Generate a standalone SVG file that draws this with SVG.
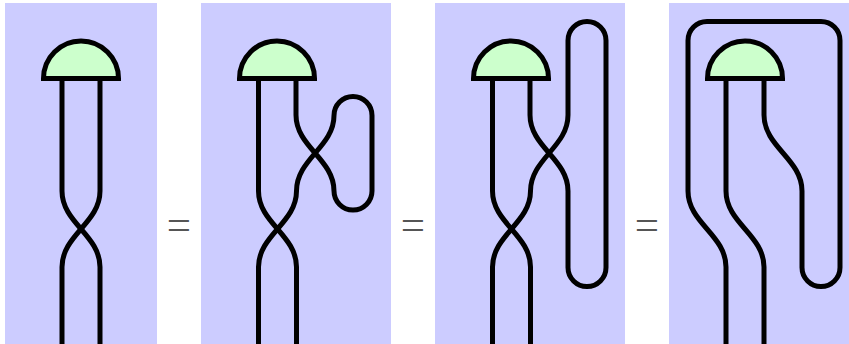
<svg xmlns="http://www.w3.org/2000/svg" width="849" height="344" viewBox="0 0 849 344">
<style>
.panel{fill:#ccf;stroke:none}
.wire{fill:none;stroke:#000;stroke-width:5}
.dome{fill:#cfc;stroke:#000;stroke-width:5}
.eq{font-family:"Liberation Serif",serif;font-size:43px;fill:#555;text-anchor:middle}
</style>
<defs>
<path id="d" class="dome" d="M-37.500 0A37.500 37.500 0 0 1 37.500 0Z"/>
</defs>
<rect width="849" height="344" fill="#fff"/>
<g id="panels">
<rect class="panel" x="5" y="3" width="152" height="341"/>
<rect class="panel" x="201" y="3" width="190" height="341"/>
<rect class="panel" x="435" y="3" width="190" height="341"/>
<rect class="panel" x="669" y="3" width="180" height="341"/>
</g>
<g id="connectors">
<path class="wire" d="M62 78V191C62 223 100 235 100 267V344"/>
<path class="wire" d="M100 78V191C100 223 62 235 62 267V344"/>
<path class="wire" d="M258.500 78V191C258.500 223 296.500 235 296.500 267V344"/>
<path class="wire" d="M296 78V115C296 147 334 159 334 191A19 19 0 0 0 372 191V115.500A19 19 0 0 0 334 115.500C334 147 296.500 159 296.500 191C296.500 223 258.500 235 258.500 267V344"/>
<path class="wire" d="M492.500 78V191C492.500 223 530.500 235 530.500 267V344"/>
<path class="wire" d="M530 78V115C530 147 568 159 568 191V267.500A19 19 0 0 0 606 267.500V40.500A19 19 0 0 0 568 40.500V115C568 147 530.500 159 530.500 191C530.500 223 492.500 235 492.500 267V344"/>
<path class="wire" d="M726 78V191C726 223 764 235 764 267V344"/>
<path class="wire" d="M764 78V115C764 147 802 159 802 191V267.500A19 19 0 0 0 840 267.500V40.500A19 19 0 0 0 821 21.500H707A19 19 0 0 0 688 40.500V191C688 223 726 235 726 267V344"/>
</g>
<g id="dome1"><use href="#d" x="81" y="78.500"/></g>
<g id="dome2"><use href="#d" x="277" y="78.500"/></g>
<g id="dome3"><use href="#d" x="511" y="78.500"/></g>
<g id="dome4"><use href="#d" x="745" y="78.500"/></g>
<g id="equals">
<text class="eq" x="179" y="239">=</text>
<text class="eq" x="413" y="239">=</text>
<text class="eq" x="647" y="239">=</text>
</g>
</svg>
